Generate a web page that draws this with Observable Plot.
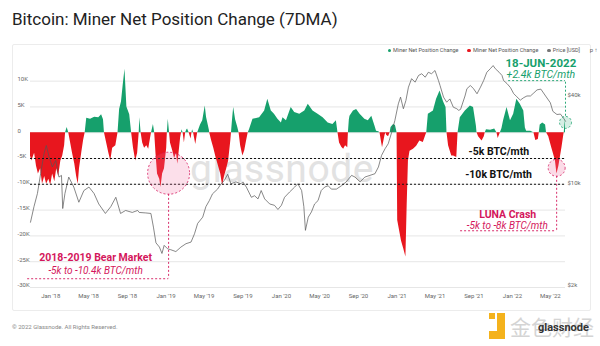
<!DOCTYPE html>
<html><head><meta charset="utf-8">
<script src="https://cdn.jsdelivr.net/npm/d3@7"></script>
<script src="https://cdn.jsdelivr.net/npm/@observablehq/plot@0.6"></script>
<style>
html,body{margin:0;padding:0;background:#fff}
body{width:600px;height:346px;position:relative;overflow:hidden;font-family:Roboto,"Noto Sans",sans-serif}
#title{position:absolute;left:12px;top:9px;font-size:17px;color:#222;white-space:nowrap}
#panel{position:absolute;left:12px;top:44px;width:577px;height:265px;border:1px solid #ececec;border-radius:2px}
#wm{position:absolute;left:190px;top:146px;font-size:39px;color:#e2e2e2;letter-spacing:0.5px}
#charts{position:absolute;left:0;top:44px;width:600px;height:266px}
#charts svg{position:absolute;left:0;top:0}
#legend{position:absolute;right:20px;top:47px;display:flex;gap:9px;font-size:5.5px;color:#555;white-space:nowrap}
#legend span.dot{display:inline-block;width:3.5px;height:3.5px;border-radius:50%;margin-right:2px;vertical-align:middle}
#copy{position:absolute;left:12px;top:323px;font-size:6px;color:#888}
#logo{position:absolute;left:486px;top:311px;width:104px;height:30px}
</style></head>
<body>
<div id="title">Bitcoin: Miner Net Position Change (7DMA)</div>
<div id="panel"></div>
<div id="wm">glassnode</div>
<div id="legend"></div>
<div id="charts"></div>
<div id="copy">© 2022 Glassnode. All Rights Reserved.</div>
<div id="logo">
  <div style="position:absolute;left:3px;top:2px;width:6px;height:6px;background:#f4b21c"></div>
  <div style="position:absolute;left:11px;top:2px;width:8px;height:26px;background:#f4b21c"></div>
  <div style="position:absolute;left:3px;top:20px;width:16px;height:8px;background:#f4b21c"></div>
  <div style="position:absolute;left:24px;top:0px;font-size:21px;color:#d4d4d4;font-family:'Noto Sans CJK SC';white-space:nowrap">金色财经</div>
  <div style="position:absolute;left:52px;top:10px;font-size:11px;font-weight:700;color:#333;white-space:nowrap">glassnode</div>
</div>
<script>
// Miner net position change, 7DMA (thousand BTC / month)
const netChange = [
["2017-10-29",-4.5],["2017-11-02",-5.5],["2017-11-11",-4],["2017-11-17",-6.5],["2017-11-23",-8],["2017-11-30",-7],["2017-12-06",-10],["2017-12-13",-8.5],["2017-12-19",-10],["2017-12-26",-9],["2018-01-01",-10.2],["2018-01-07",-8],["2018-01-14",-9.5],["2018-01-20",-7],["2018-01-26",-8.5],["2018-02-02",-5.5],["2018-02-08",-4.5],["2018-02-14",-2.5],["2018-02-17",0],["2018-02-22",1],["2018-02-27",0],["2018-03-05",-2],["2018-03-11",-4],["2018-03-18",-6],["2018-03-24",-8.5],["2018-03-29",-10],["2018-04-02",-7],["2018-04-09",-4],["2018-04-15",-1.5],["2018-04-20",0],["2018-04-25",2.8],["2018-05-07",2.6],["2018-05-20",3.0],["2018-06-02",2.9],["2018-06-11",3.5],["2018-06-17",2.5],["2018-06-20",0],["2018-06-27",-2],["2018-07-04",-4],["2018-07-10",-5.5],["2018-07-16",-3],["2018-07-26",-2.5],["2018-08-02",0],["2018-08-07",4.5],["2018-08-13",6],["2018-08-18",9],["2018-08-24",12.3],["2018-08-30",5],["2018-09-08",3.5],["2018-09-14",0],["2018-09-20",-3],["2018-09-27",-5.5],["2018-10-03",-4],["2018-10-08",0],["2018-10-10",2.9],["2018-10-14",0],["2018-10-19",-2],["2018-10-25",-3],["2018-11-01",-2.5],["2018-11-07",-3.2],["2018-11-13",-1],["2018-11-16",0],["2018-11-22",1.6],["2018-11-26",0],["2018-11-30",-4],["2018-12-05",-8],["2018-12-12",-9],["2018-12-16",-10.6],["2018-12-21",-8],["2018-12-27",-7],["2019-01-03",-3],["2019-01-05",0],["2019-01-08",2.6],["2019-01-12",0],["2019-01-15",-2],["2019-01-22",-3.5],["2019-01-28",-5],["2019-02-03",-4],["2019-02-07",-6.1],["2019-02-11",-4],["2019-02-16",-1],["2019-02-19",0],["2019-02-20",0.6],["2019-02-24",0],["2019-02-28",-2],["2019-03-04",0],["2019-03-07",0.5],["2019-03-10",0.7],["2019-03-15",0],["2019-03-21",-1.2],["2019-03-24",0],["2019-03-26",0.6],["2019-03-29",0],["2019-04-05",-2.3],["2019-04-11",0],["2019-04-14",0.5],["2019-04-20",1.5],["2019-04-27",2.3],["2019-05-05",5.2],["2019-05-09",3],["2019-05-18",0.5],["2019-05-19",0],["2019-05-25",-1.5],["2019-06-01",-3],["2019-06-07",-4.5],["2019-06-16",-6.5],["2019-06-23",-8],["2019-06-29",-10.3],["2019-07-05",-8.5],["2019-07-12",-7],["2019-07-18",-5.5],["2019-07-25",-1.5],["2019-07-27",0],["2019-07-31",3],["2019-08-03",4.9],["2019-08-09",2.5],["2019-08-16",1],["2019-08-20",0],["2019-08-25",-2.5],["2019-09-01",-4.5],["2019-09-07",-3.5],["2019-09-13",-1.5],["2019-09-18",0],["2019-09-22",0.6],["2019-10-03",2.6],["2019-10-24",2.9],["2019-11-09",4.2],["2019-11-19",6.5],["2019-11-30",4.2],["2019-12-10",3.6],["2019-12-21",2.6],["2020-01-01",1.9],["2020-01-06",2.9],["2020-01-17",2.3],["2020-02-01",4.9],["2020-02-12",3.9],["2020-02-28",3.6],["2020-03-15",4.2],["2020-03-26",5.5],["2020-04-10",4.2],["2020-04-26",3.6],["2020-05-12",2.9],["2020-05-28",1.9],["2020-06-12",1.6],["2020-06-23",2.3],["2020-06-28",0],["2020-07-03",-2],["2020-07-10",-2.8],["2020-07-16",-3.2],["2020-07-22",-2.5],["2020-07-29",-2.9],["2020-07-31",0],["2020-08-03",2.5],["2020-08-05",3.2],["2020-08-16",4.2],["2020-08-26",4.5],["2020-09-06",3.6],["2020-09-21",2.6],["2020-10-02",2.3],["2020-10-13",3.2],["2020-10-23",1.3],["2020-10-28",0.3],["2020-11-04",0.2],["2020-11-08",0],["2020-11-12",-1.5],["2020-11-16",-2.9],["2020-11-24",-0.5],["2020-11-27",0],["2020-11-29",-0.5],["2020-12-05",-0.8],["2020-12-10",0],["2020-12-13",1],["2020-12-21",1.6],["2020-12-27",1.4],["2021-01-01",0],["2021-01-03",-17],["2021-01-09",-19],["2021-01-15",-21],["2021-01-22",-22.5],["2021-01-29",-24.1],["2021-02-02",-14],["2021-02-06",-5.5],["2021-02-11",-3.6],["2021-02-22",-3.2],["2021-03-04",-2.6],["2021-03-14",-1.6],["2021-03-25",-1.9],["2021-04-02",-0.5],["2021-04-05",0],["2021-04-10",3.6],["2021-04-26",4.2],["2021-05-06",6.5],["2021-05-17",8.1],["2021-05-28",6.0],["2021-06-05",4.9],["2021-06-08",0],["2021-06-13",-2.5],["2021-06-23",-4.5],["2021-06-29",-4.5],["2021-07-09",-4.8],["2021-07-13",0],["2021-07-20",2.9],["2021-08-05",4.2],["2021-08-21",5.2],["2021-08-31",4.9],["2021-09-09",1.3],["2021-09-11",0],["2021-09-16",-0.8],["2021-09-27",-1.6],["2021-10-04",-0.8],["2021-10-07",0],["2021-10-11",0.6],["2021-10-24",0.5],["2021-11-06",0.7],["2021-11-13",0],["2021-11-17",-1.1],["2021-11-24",0],["2021-11-29",0.8],["2021-12-04",2.3],["2021-12-15",4.9],["2021-12-26",2.3],["2022-01-05",3.6],["2022-01-15",6.5],["2022-01-26",5.5],["2022-02-06",4.2],["2022-02-11",0.9],["2022-02-15",0.3],["2022-02-28",0.3],["2022-03-10",0],["2022-03-16",-1.5],["2022-03-24",-1.3],["2022-03-27",0],["2022-03-30",1.5],["2022-04-07",1.9],["2022-04-16",1.5],["2022-04-19",0],["2022-04-26",-0.8],["2022-05-05",-2.8],["2022-05-17",-5.4],["2022-05-22",-8],["2022-05-28",-6.5],["2022-06-07",-2.8],["2022-06-13",-0.3],["2022-06-14",0],["2022-06-16",1.5],["2022-06-18",2.4]
];
// BTC price (USD)
const btcPrice = [
["2017-10-29",5400],["2017-11-09",6900],["2017-11-20",8500],["2017-11-30",11600],["2017-12-11",16000],["2017-12-18",18100],["2017-12-27",15100],["2018-01-06",12900],["2018-01-17",14300],["2018-01-27",11000],["2018-02-04",11300],["2018-02-08",6700],["2018-02-15",8500],["2018-02-27",11000],["2018-03-15",9400],["2018-03-31",7400],["2018-04-16",8900],["2018-05-02",9400],["2018-05-18",8500],["2018-06-02",7200],["2018-06-23",6200],["2018-07-10",6900],["2018-07-26",8000],["2018-08-10",6200],["2018-08-26",6500],["2018-09-16",6300],["2018-10-03",6500],["2018-10-08",6300],["2018-10-29",6250],["2018-11-14",6200],["2018-11-22",5000],["2018-11-30",3900],["2018-12-11",3650],["2018-12-19",3300],["2018-12-26",3750],["2019-01-06",3550],["2019-01-16",3500],["2019-02-01",3400],["2019-02-17",3650],["2019-03-05",3850],["2019-03-21",3950],["2019-04-01",4500],["2019-04-11",5300],["2019-04-27",5850],["2019-05-07",6900],["2019-05-18",7600],["2019-05-28",8450],["2019-06-13",9100],["2019-06-24",9900],["2019-07-04",10400],["2019-07-15",11500],["2019-07-25",9900],["2019-08-10",10200],["2019-08-26",9900],["2019-09-01",10200],["2019-09-12",9400],["2019-09-28",8000],["2019-10-08",8200],["2019-10-19",7800],["2019-10-29",8900],["2019-11-09",7800],["2019-11-25",7200],["2019-12-10",7050],["2019-12-21",6600],["2020-01-01",7050],["2020-01-11",8000],["2020-01-27",8700],["2020-02-12",9400],["2020-02-22",9900],["2020-03-05",8900],["2020-03-12",6900],["2020-03-17",4750],["2020-03-26",5850],["2020-04-05",6350],["2020-04-15",7200],["2020-04-26",7600],["2020-05-06",8900],["2020-05-17",9400],["2020-05-28",9600],["2020-06-07",9100],["2020-06-23",9100],["2020-07-09",9600],["2020-07-24",10200],["2020-08-10",11300],["2020-08-21",11000],["2020-09-06",10200],["2020-09-21",11000],["2020-10-07",11300],["2020-10-23",11600],["2020-11-03",12900],["2020-11-13",15500],["2020-11-24",17200],["2020-12-04",18600],["2020-12-15",22300],["2020-12-25",26800],["2021-01-05",34900],["2021-01-12",38800],["2021-01-21",32300],["2021-01-29",36800],["2021-02-06",45400],["2021-02-16",51900],["2021-02-27",49100],["2021-03-10",54600],["2021-03-20",56100],["2021-03-31",53100],["2021-04-10",57400],["2021-04-20",56100],["2021-05-01",59000],["2021-05-12",50400],["2021-05-17",46600],["2021-05-28",38800],["2021-06-07",35800],["2021-06-17",37700],["2021-06-28",33100],["2021-07-09",32300],["2021-07-15",31500],["2021-07-21",32000],["2021-08-04",39500],["2021-08-10",44300],["2021-08-21",46600],["2021-08-31",44300],["2021-09-11",40900],["2021-09-22",45400],["2021-10-02",50400],["2021-10-12",57400],["2021-10-23",60700],["2021-11-01",63800],["2021-11-08",60700],["2021-11-20",57400],["2021-11-29",54600],["2021-12-04",50400],["2021-12-15",48000],["2021-12-26",45000],["2022-01-05",41000],["2022-01-15",39000],["2022-01-26",37000],["2022-02-06",38500],["2022-02-16",39500],["2022-02-27",39500],["2022-03-10",41500],["2022-03-20",43500],["2022-04-01",44000],["2022-04-16",39500],["2022-05-01",35500],["2022-05-09",31000],["2022-05-22",29500],["2022-06-02",29700],["2022-06-13",27600],["2022-06-18",26500]
];
const xTickDates = ["2018-01-01","2018-05-01","2018-09-01","2019-01-01","2019-05-01","2019-09-01","2020-01-01","2020-05-01","2020-09-01","2021-01-01","2021-05-01","2021-09-01","2022-01-01","2022-05-01"];
const yTicksK = [-30,-25,-20,-15,-10,-5,0,5,10];
const priceTicks = [2000,6000,10000,40000];
const thresholdsK = [-5,-10];
const legendLabels = ["Miner Net Position Change","Miner Net Position Change","Price [USD]"];
const legendColors = ["#16a06c","#e8161e","#777"];

const GREEN = "#16a06c", RED = "#e8161e", PINK = "#d4175c";

const net = netChange.map(([d,v]) => ({date:new Date(d), v}));
const price = btcPrice.map(([d,p]) => ({date:new Date(d), p}));
const xTicks = xTickDates.map(d => new Date(d));
const fmtX = d3.utcFormat("%b '%y");

const common = {
  width:600, height:266, marginTop:16, marginBottom:23, marginLeft:30, marginRight:35,
  style:{background:"transparent", fontFamily:"Roboto, sans-serif", overflow:"visible"}
};
const xDomain = [new Date("2017-10-29"), new Date("2022-06-18")];

const p1 = Plot.plot({
  ...common,
  x:{type:"utc", domain:xDomain},
  y:{domain:[-30,14]},
  marks:[
    Plot.gridY(yTicksK, {stroke:"#e6e6e6", strokeOpacity:1}),
    Plot.areaY(net, {x:"date", y:d => Math.max(0, d.v), fill:GREEN}),
    Plot.areaY(net, {x:"date", y:d => Math.min(0, d.v), fill:RED}),
    Plot.axisY(yTicksK, {tickSize:0, tickPadding:3, textAnchor:"start", dx:-10, dy:-2, fontSize:6, fill:"#666",
      tickFormat:d => d === 0 ? "0" : `${d}K`}),
    Plot.axisX(xTicks, {tickSize:0, tickPadding:6, fontSize:6, fill:"#666", tickFormat:fmtX})
  ]
});

const p2 = Plot.plot({
  ...common,
  x:{type:"utc", domain:xDomain, axis:null},
  y:{type:"log", domain:[1930,69100]},
  marks:[
    Plot.lineY(price, {x:"date", y:"p", stroke:"#555", strokeWidth:0.7}),
    Plot.axisY(priceTicks, {anchor:"right", tickSize:0, tickPadding:2, fontSize:6, fill:"#666",
      tickFormat:d => "$" + (d/1000) + "k"})
  ]
});

const D = s => new Date(s);
const p3 = Plot.plot({
  ...common,
  x:{type:"utc", domain:xDomain, axis:null},
  y:{domain:[-30,14], axis:null},
  marks:[
    Plot.ruleY(thresholdsK, {stroke:"#111", strokeDasharray:"2,2", strokeWidth:1.1}),
    // circles
    Plot.dot([{date:D("2019-01-09"), v:-7.85}], {x:"date", y:"v", r:21, fill:"rgba(240,110,160,0.22)", stroke:PINK, strokeDasharray:"2,2", strokeWidth:0.8}),
    Plot.dot([{date:D("2022-05-21"), v:-6.8}], {x:"date", y:"v", r:8.5, fill:"rgba(240,110,160,0.25)", stroke:PINK, strokeDasharray:"2,2", strokeWidth:0.8}),
    Plot.dot([{date:D("2022-06-18"), v:2.0}], {x:"date", y:"v", r:6, fill:"rgba(22,160,108,0.18)", stroke:GREEN, strokeDasharray:"2,2", strokeWidth:0.8}),
    // connectors
    Plot.ruleX([{date:D("2019-01-09"), y1:-11.95, y2:-28.3}], {x:"date", y1:"y1", y2:"y2", stroke:PINK, strokeDasharray:"2,2", strokeWidth:0.9}),
    Plot.ruleY([{v:-28.3, x1:D("2017-10-20"), x2:D("2019-01-09")}], {y:"v", x1:"x1", x2:"x2", stroke:PINK, strokeDasharray:"2,2", strokeWidth:0.9}),
    Plot.ruleX([{date:D("2022-05-21"), y1:-8.45, y2:-19.0}], {x:"date", y1:"y1", y2:"y2", stroke:PINK, strokeDasharray:"2,2", strokeWidth:0.9}),
    Plot.ruleY([{v:-19.0, x1:D("2021-07-21"), x2:D("2022-05-21")}], {y:"v", x1:"x1", x2:"x2", stroke:PINK, strokeDasharray:"2,2", strokeWidth:0.9}),
    Plot.ruleX([{date:D("2022-06-18"), y1:3.2, y2:10.1}], {x:"date", y1:"y1", y2:"y2", stroke:GREEN, strokeDasharray:"2,2", strokeWidth:0.9}),
    Plot.ruleY([{v:10.1, x1:D("2021-12-20"), x2:D("2022-06-18")}], {y:"v", x1:"x1", x2:"x2", stroke:GREEN, strokeDasharray:"2,2", strokeWidth:0.9}),
    // labels
    Plot.text([{date:D("2021-11-19"), v:-3.7, t:"-5k BTC/mth"}, {date:D("2021-11-18"), v:-8.2, t:"-10k BTC/mth"}],
      {x:"date", y:"v", text:"t", fontSize:10.5, fontWeight:700, fill:"#111"}),
    Plot.text([{date:D("2022-04-01"), v:13.55, t:"18-JUN-2022"}],
      {x:"date", y:"v", text:"t", fontSize:11.5, fontWeight:700, fill:GREEN, ariaLabel:"underline"}),
    Plot.text([{date:D("2022-04-01"), v:11.2, t:"+2.4k BTC/mth"}],
      {x:"date", y:"v", text:"t", fontSize:10.5, fontStyle:"italic", fill:GREEN}),
    Plot.text([{date:D("2021-12-17"), v:-15.9, t:"LUNA Crash"}, {date:D("2018-05-23"), v:-24.2, t:"2018-2019 Bear Market"}],
      {x:"date", y:"v", text:"t", fontSize:10.5, fontWeight:700, fill:PINK, ariaLabel:"underline"}),
    Plot.text([{date:D("2021-12-16"), v:-18.1, t:"-5k to -8k BTC/mth"}, {date:D("2018-05-23"), v:-26.7, t:"-5k to -10.4k BTC/mth"}],
      {x:"date", y:"v", text:"t", fontSize:10, fontStyle:"italic", fill:PINK})
  ]
});
p3.querySelectorAll('g[aria-label="underline"] text').forEach(t => t.style.textDecoration = "underline");

const charts = document.getElementById("charts");
charts.append(p1, p2, p3);

const legend = document.getElementById("legend");
legendLabels.forEach((l, i) => {
  const s = document.createElement("span");
  s.innerHTML = `<span class="dot" style="background:${legendColors[i]}"></span>${l}`;
  legend.append(s);
});
</script>
</body></html>
